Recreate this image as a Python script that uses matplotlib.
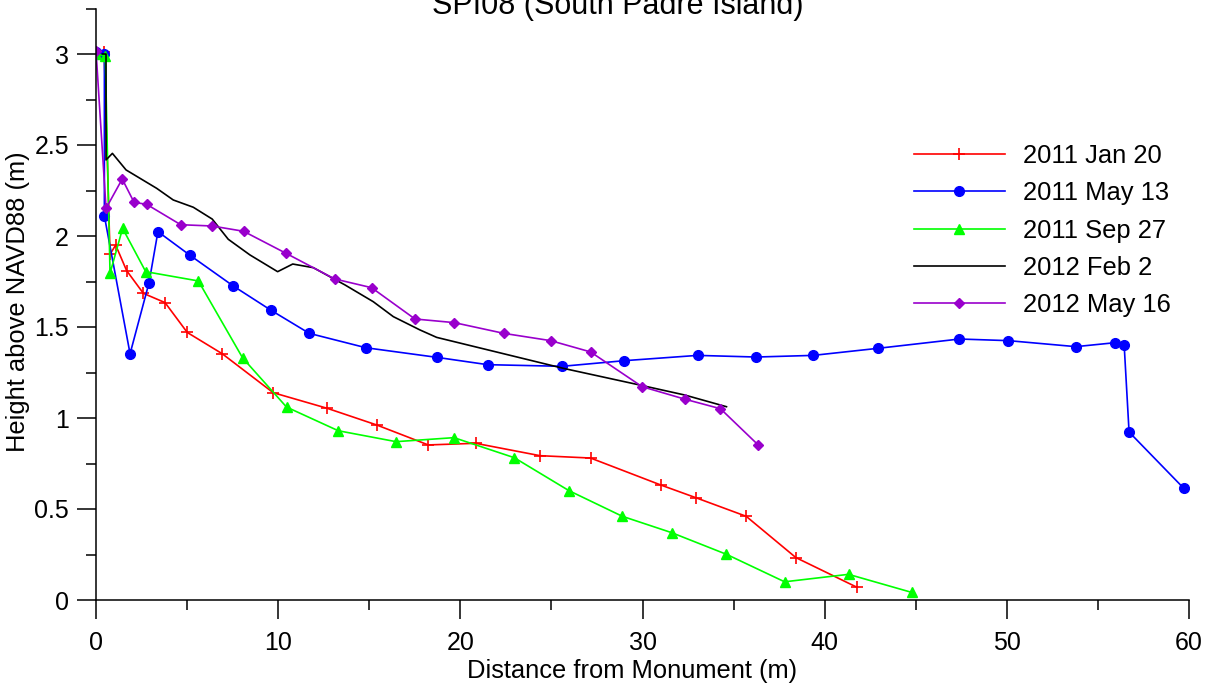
import matplotlib
matplotlib.use("Agg")
import matplotlib.pyplot as plt
from matplotlib.ticker import MultipleLocator

plt.rcParams['font.family'] = ['Liberation Sans', 'DejaVu Sans']

title = "SPI08 (South Padre Island)"
xlabel = "Distance from Monument (m)"
ylabel = "Height above NAVD88 (m)"

labels = ["2011 Jan 20", "2011 May 13", "2011 Sep 27", "2012 Feb 2", "2012 May 16"]

jan11_x = [0.0, 0.45, 0.77, 1.08, 1.68, 2.60, 3.79, 5.01, 6.93, 9.73, 12.70, 15.40,
           18.24, 20.84, 24.37, 27.15, 31.00, 32.93, 35.69, 38.42, 41.75]
jan11_y = [3.01, 3.01, 1.90, 1.95, 1.81, 1.685, 1.634, 1.47, 1.353, 1.139, 1.053, 0.962,
           0.852, 0.861, 0.793, 0.78, 0.632, 0.562, 0.46, 0.233, 0.071]

may11_x = [0.0, 0.46, 0.46, 1.87, 2.91, 3.40, 5.16, 7.54, 9.59, 11.71, 14.82, 18.73,
           21.50, 25.59, 29.01, 33.02, 36.24, 39.37, 42.94, 47.40, 50.09, 53.79,
           55.96, 56.44, 56.71, 59.71]
may11_y = [3.01, 2.998, 2.11, 1.353, 1.743, 2.024, 1.894, 1.725, 1.593, 1.465, 1.386, 1.333,
           1.293, 1.284, 1.315, 1.344, 1.335, 1.344, 1.383, 1.434, 1.425, 1.392,
           1.414, 1.403, 0.923, 0.614]

sep11_x = [0.0, 0.51, 0.77, 1.46, 2.73, 5.62, 8.05, 10.46, 13.30, 16.47, 19.65, 22.96,
           25.96, 28.89, 31.60, 34.61, 37.80, 41.31, 44.77]
sep11_y = [3.00, 2.99, 1.795, 2.042, 1.804, 1.753, 1.33, 1.06, 0.93, 0.87, 0.892, 0.782,
           0.601, 0.46, 0.37, 0.251, 0.10, 0.141, 0.042]

feb12_x = [0.35, 0.55, 0.55, 0.90, 1.65, 3.33, 4.24, 5.34, 6.38, 7.26, 8.45, 9.97, 10.80,
           11.93, 13.67, 15.22, 16.32, 17.78, 18.70, 25.65, 29.86, 32.33, 34.61]
feb12_y = [3.00, 3.00, 2.418, 2.454, 2.363, 2.262, 2.198, 2.158, 2.093, 1.982, 1.896, 1.804,
           1.846, 1.826, 1.731, 1.639, 1.557, 1.484, 1.443, 1.273, 1.181, 1.126, 1.062]

may12_x = [0.0, 0.55, 1.44, 2.09, 2.78, 4.65, 6.37, 8.10, 10.43, 13.10, 15.13, 17.51,
           19.67, 22.39, 24.96, 27.15, 29.98, 32.34, 34.28, 36.35]
may12_y = [3.018, 2.152, 2.313, 2.185, 2.174, 2.062, 2.055, 2.026, 1.905, 1.764, 1.716, 1.544,
           1.524, 1.465, 1.425, 1.363, 1.172, 1.103, 1.051, 0.852]

W, H = 1215, 690
fig = plt.figure(figsize=(W / 100, H / 100), dpi=100)
ax = fig.add_axes([96 / W, 1 - 600 / H, (1189 - 96) / W, (600 - 8.5) / H])

lw = 1.2
ax.plot(jan11_x, jan11_y, color='#FF0000', lw=lw, marker='+', ms=9, mew=1.2, label=labels[0])
ax.plot(may11_x, may11_y, color='#0000FF', lw=lw, marker='o', ms=7, label=labels[1])
ax.plot(sep11_x, sep11_y, color='#00FF00', lw=lw, marker='^', ms=7, label=labels[2])
ax.plot(feb12_x, feb12_y, color='black', lw=lw, label=labels[3])
ax.plot(may12_x, may12_y, color='#9900CC', lw=lw, marker='D', ms=5.5, label=labels[4])

ax.set_xlim(0, 60)
ax.set_ylim(0, 3.25)
ax.xaxis.set_major_locator(MultipleLocator(10))
ax.xaxis.set_minor_locator(MultipleLocator(5))
ax.yaxis.set_minor_locator(MultipleLocator(0.25))
ax.set_yticks([0, 0.5, 1, 1.5, 2, 2.5, 3])
ax.set_yticklabels(["0", "0.5", "1", "1.5", "2", "2.5", "3"])

for s in ['top', 'right']:
    ax.spines[s].set_visible(False)
for s in ['left', 'bottom']:
    ax.spines[s].set_linewidth(1.1)
    ax.spines[s].set_clip_on(False)

ax.tick_params(which='major', direction='out', length=13.5, width=1.1, labelsize=18)
ax.tick_params(which='minor', direction='out', length=7, width=1.1)
ax.tick_params(axis='x', which='major', pad=9)
ax.tick_params(axis='y', which='major', pad=6)

ax.set_xlabel(xlabel, fontsize=18.4)
ax.set_ylabel(ylabel, fontsize=18.4)
ax.xaxis.set_label_coords((632 - 96) / (1189 - 96), -(659 - 600) / (600 - 8.5))
ax.yaxis.set_label_coords(-(96 - 30) / (1189 - 96), (600 - 302) / (600 - 8.5))

fig.text(618 / W, 1 - 14 / H, title, ha='center', va='baseline', fontsize=22)

leg = ax.legend(loc='upper left', bbox_to_anchor=(914 / W, 1 - 144 / H),
                bbox_transform=fig.transFigure, frameon=False, fontsize=18.4,
                handlelength=3.55, handletextpad=0.7, labelspacing=0.52, borderpad=0,
                borderaxespad=0)

fig.savefig("out.png", dpi=100)
